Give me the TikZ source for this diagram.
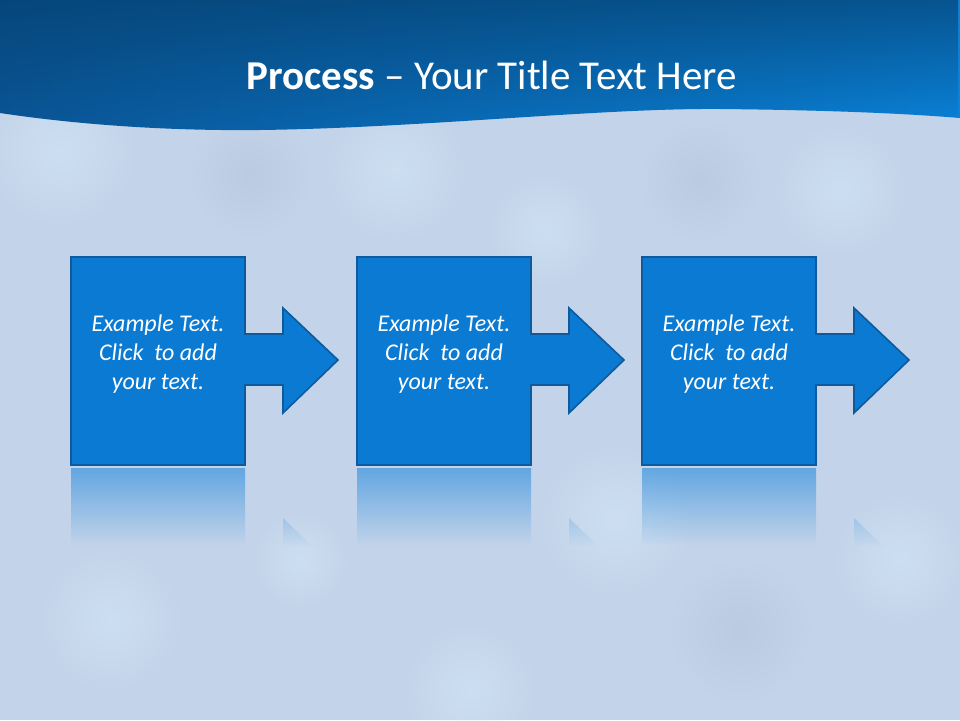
\documentclass[tikz,border=0pt]{standalone}
\usepackage{fontspec}
\setmainfont{Carlito}
\usetikzlibrary{fadings}
\definecolor{bg}{HTML}{C3D4EA}
\definecolor{bglite}{HTML}{D8ECFA}
\definecolor{bgdark}{HTML}{AFC0D8}
\definecolor{hdrL}{HTML}{0A5697}
\definecolor{hdrR}{HTML}{0A84DC}
\definecolor{hdrD}{HTML}{05406F}
\definecolor{boxfill}{HTML}{0A7AD3}
\definecolor{boxedge}{HTML}{0E5A9C}
\definecolor{refl}{HTML}{2F8EDD}
\tikzfading[name=reflfade, top color=transparent!35, bottom color=transparent!100]
\tikzfading[name=topdark, top color=transparent!30, bottom color=transparent!100]
\tikzfading[name=softblob, inner color=transparent!0, outer color=transparent!100]
\tikzset{
  stepbox/.style={fill=boxfill, draw=boxedge, line width=1.6pt, line join=miter},
  steptext/.style={text=white, align=center, font=\fontsize{24}{29}\selectfont\itshape},
  blob/.style={fill=bglite, opacity=0.45, path fading=softblob},
  darkblob/.style={fill=bgdark, opacity=0.45, path fading=softblob}
}
\begin{document}
\begin{tikzpicture}[x=1pt,y=-1pt]
\useasboundingbox (0,0) rectangle (960,720);
% background
\fill[bg] (0,0) rectangle (960,720);
\fill[blob] (395,170) circle (75);
\fill[blob] (545,230) circle (60);
\fill[blob] (60,150) circle (80);
\fill[blob] (840,190) circle (70);
\fill[blob] (615,520) circle (80);
\fill[blob] (110,620) circle (75);
\fill[blob] (470,690) circle (70);
\fill[blob] (900,560) circle (70);
\fill[blob] (300,560) circle (50);
\fill[darkblob] (250,175) circle (60);
\fill[darkblob] (740,630) circle (70);
\fill[darkblob] (700,180) circle (60);
% header
\shade[left color=hdrL, right color=hdrR]
  (0,0) -- (960,0) -- (960,118)
  .. controls (900,113) and (820,110) .. (720,109)
  .. controls (600,108) and (420,128) .. (260,130)
  .. controls (170,131) and (80,125) .. (0,113) -- cycle;
\fill[hdrD, path fading=topdark]
  (0,0) -- (960,0) -- (960,118)
  .. controls (900,113) and (820,110) .. (720,109)
  .. controls (600,108) and (420,128) .. (260,130)
  .. controls (170,131) and (80,125) .. (0,113) -- cycle;
\node[text=white, font=\fontsize{41}{48}\selectfont] (title) at (492,75) {\textbf{Process} – Your Title Text Here};
% steps
\foreach \i/\dx in {1/0,2/286,3/571}{
  \begin{scope}[xshift=\dx pt]
    % reflection
    \begin{scope}
      \clip (71,468) rectangle (245,545) (283,518) -- (338,571) -- (283,571) -- cycle;
      \fill[refl, path fading=reflfade] (71,468) rectangle (340,546);
    \end{scope}
    % shape
    \draw[stepbox] (71,257) -- (245,257) -- (245,334) -- (283,334) -- (283,308)
      -- (338,360) -- (283,413) -- (283,385) -- (245,385) -- (245,465) -- (71,465) -- cycle;
    \node[minimum width=174pt, minimum height=208pt, inner sep=0pt] (box\i) at (158,361) {};
    \node[steptext] (txt\i) at (box\i.center) [yshift=7pt] {Example Text.\\Click\ \ to add\\your text.};
  \end{scope}
}
\end{tikzpicture}
\end{document}
